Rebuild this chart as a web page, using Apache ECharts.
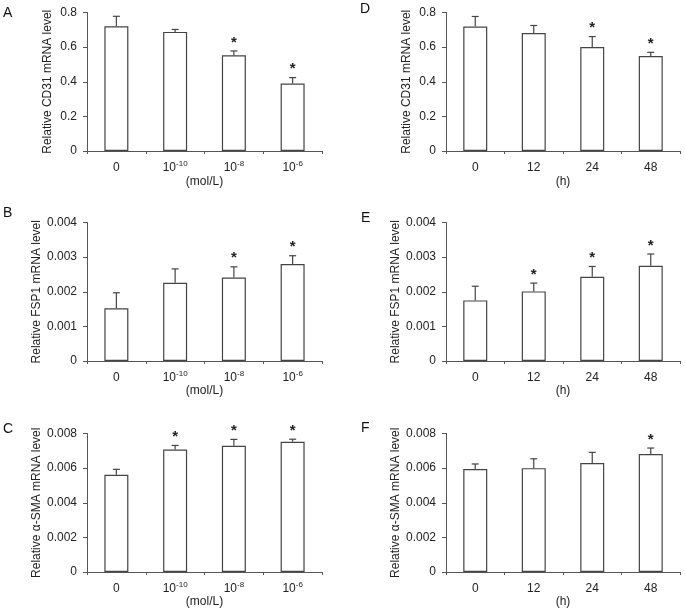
<!DOCTYPE html>
<html><head><meta charset="utf-8">
<script src="https://cdn.jsdelivr.net/npm/echarts@6/dist/echarts.min.js"></script>
<style>html,body{margin:0;padding:0;background:#fff}#c{width:685px;height:611px}</style>
</head><body><div id="c"></div>
<script>
// ---- data ----
const concCategories = ['0', '10^-10', '10^-8', '10^-6'];
const timeCategories = ['0', '12', '24', '48'];

const aMean = [0.720, 0.688, 0.553, 0.390];
const aSd   = [0.058, 0.014, 0.025, 0.034];
const aSig  = [0, 0, 1, 1];

const bMean = [0.00152, 0.00226, 0.00241, 0.00280];
const bSd   = [0.00045, 0.00040, 0.00031, 0.00024];
const bSig  = [0, 0, 1, 1];

const cMean = [0.00562, 0.00708, 0.00729, 0.00752];
const cSd   = [0.00031, 0.00023, 0.00037, 0.00015];
const cSig  = [0, 1, 1, 1];

const dMean = [0.719, 0.681, 0.600, 0.549];
const dSd   = [0.058, 0.044, 0.061, 0.021];
const dSig  = [0, 0, 1, 1];

const eMean = [0.00175, 0.00201, 0.00243, 0.00275];
const eSd   = [0.00041, 0.00024, 0.00030, 0.00034];
const eSig  = [0, 1, 1, 1];

const fMean = [0.00595, 0.00600, 0.00629, 0.00681];
const fSd   = [0.00029, 0.00054, 0.00062, 0.00035];
const fSig  = [0, 0, 0, 1];

const cd31Ticks = [0, 0.2, 0.4, 0.6, 0.8];
const fsp1Ticks = [0, 0.001, 0.002, 0.003, 0.004];
const smaTicks  = [0, 0.002, 0.004, 0.006, 0.008];

const yNames = ['Relative CD31 mRNA level', 'Relative FSP1 mRNA level', 'Relative α-SMA mRNA level'];
const xNames = ['(mol/L)', '(h)'];
const letters = ['A', 'B', 'C', 'D', 'E', 'F'];

// ---- layout ----
const FONT = "'Liberation Sans', Arial, sans-serif";
const TXT = '#222';
const AX = '#555';
const colLeft = [87, 446];
const colWidth = [235, 234];
const rowTop = [12.5, 222.5, 433.5];
const rowH = 138.5;
const xNameGap = [25, 24, 20];
const letterPos = [[3, 6], [3, 206], [3, 422], [360, 2], [361, 211], [361, 421]];

const panels = [
  {col: 0, row: 0, cats: concCategories, mean: aMean, sd: aSd, sig: aSig, ticks: cd31Ticks, dec: 1},
  {col: 0, row: 1, cats: concCategories, mean: bMean, sd: bSd, sig: bSig, ticks: fsp1Ticks, dec: 3},
  {col: 0, row: 2, cats: concCategories, mean: cMean, sd: cSd, sig: cSig, ticks: smaTicks, dec: 3},
  {col: 1, row: 0, cats: timeCategories, mean: dMean, sd: dSd, sig: dSig, ticks: cd31Ticks, dec: 1},
  {col: 1, row: 1, cats: timeCategories, mean: eMean, sd: eSd, sig: eSig, ticks: fsp1Ticks, dec: 3},
  {col: 1, row: 2, cats: timeCategories, mean: fMean, sd: fSd, sig: fSig, ticks: smaTicks, dec: 3}
];

const grid = [], xAxis = [], yAxis = [], series = [], graphic = [];

function catFormatter(v) {
  const i = v.indexOf('^');
  if (i < 0) return '{b|' + v + '}';
  return '{b|' + v.slice(0, i) + '}{s|' + v.slice(i + 1) + '}';
}

panels.forEach((p, k) => {
  grid.push({left: colLeft[p.col], width: colWidth[p.col], top: rowTop[p.row], height: rowH, containLabel: false});
  xAxis.push({
    type: 'category', gridIndex: k, data: p.cats,
    name: xNames[p.col], nameLocation: 'middle', nameGap: xNameGap[p.row],
    nameTextStyle: {fontFamily: FONT, fontSize: 12, color: TXT},
    axisLine: {lineStyle: {color: AX, width: 1}},
    axisTick: {show: true, length: 3, interval: 0, lineStyle: {color: AX}},
    axisLabel: {
      margin: 9, interval: 0, hideOverlap: false, formatter: catFormatter,
      rich: {
        b: {fontFamily: FONT, fontSize: 12, color: TXT, lineHeight: 14, verticalAlign: 'bottom'},
        s: {fontFamily: FONT, fontSize: 8, color: TXT, lineHeight: 14, verticalAlign: 'top', padding: [0, 0, 4, 0]}
      }
    }
  });
  const t = p.ticks;
  const interval = t[1] - t[0];
  yAxis.push({
    type: 'value', gridIndex: k, min: t[0], max: t[t.length - 1], interval: interval,
    name: yNames[p.row], nameLocation: 'middle', nameGap: 33, nameRotate: 90,
    nameTextStyle: {fontFamily: FONT, fontSize: 12, color: TXT},
    splitLine: {show: false},
    axisLine: {show: true, lineStyle: {color: AX, width: 1}},
    axisTick: {show: true, length: 4, lineStyle: {color: AX}},
    axisLabel: {
      margin: 10, fontFamily: FONT, fontSize: 12, color: TXT,
      formatter: v => (Math.abs(v) < 1e-12 ? '0' : v.toFixed(p.dec))
    }
  });
  series.push({
    type: 'bar', xAxisIndex: k, yAxisIndex: k, data: p.mean, barWidth: 24,
    itemStyle: {color: '#fff', borderColor: '#444', borderWidth: 1.2},
    silent: true, z: 2
  });
  series.push({
    type: 'custom', xAxisIndex: k, yAxisIndex: k, z: 3, silent: true,
    data: p.mean.map((m, i) => [i, m, p.sd[i], p.sig[i]]),
    renderItem: function (params, api) {
      const x = api.value(0), m = api.value(1), s = api.value(2), sig = api.value(3);
      const p0 = api.coord([x, m]);
      const p1 = api.coord([x, m + s]);
      const st = {stroke: '#444', lineWidth: 1.2};
      const ch = [
        {type: 'line', shape: {x1: p0[0], y1: p0[1], x2: p1[0], y2: p1[1]}, style: st},
        {type: 'line', shape: {x1: p1[0] - 3.5, y1: p1[1], x2: p1[0] + 3.5, y2: p1[1]}, style: st}
      ];
      if (sig) {
        ch.push({type: 'text', x: p1[0], y: p1[1] - 1,
          style: {text: '*', fill: '#222', font: 'bold 15px ' + FONT, align: 'center', verticalAlign: 'bottom'}});
      }
      return {type: 'group', children: ch};
    }
  });
});

letters.forEach((L, i) => {
  graphic.push({type: 'text', left: letterPos[i][0], top: letterPos[i][1],
    style: {text: L, font: '14px ' + FONT, fill: '#111'}});
});

const chart = echarts.init(document.getElementById('c'), null, {renderer: 'canvas'});
chart.setOption({animation: false, backgroundColor: '#fff', grid, xAxis, yAxis, series, graphic});
</script></body></html>
